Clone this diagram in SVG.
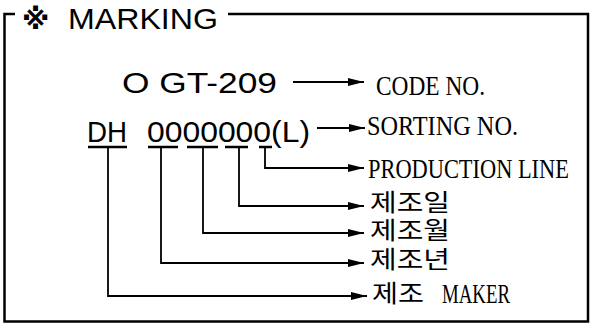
<svg xmlns="http://www.w3.org/2000/svg" width="591" height="324" viewBox="0 0 591 324">
<defs>
<style>
.sans{font-family:"Liberation Sans","Noto Sans",sans-serif;font-size:30px;fill:#000}
.lbl{font-family:"Liberation Serif",serif;font-size:27px;fill:#000}
.kr{font-family:"Liberation Serif","Noto Sans CJK KR",serif;font-size:24px;fill:#000}
.ln{fill:none;stroke:#000;stroke-width:1.8}
.ul{stroke:#000;stroke-width:2.5}
</style>
<marker id="ah" markerUnits="userSpaceOnUse" markerWidth="17" markerHeight="9" refX="16" refY="4.5" orient="auto">
<path d="M0,0.5 L16,4.5 L0,8.5 z" fill="#000"/>
</marker>
</defs>
<rect width="591" height="324" fill="#fff"/>
<g id="frame">
<path d="M15,14 H4.5 V321.5 H588 V14 H228" fill="none" stroke="#000" stroke-width="2.5"/>
<text x="22" y="29" font-family="DejaVu Sans,sans-serif" font-size="28" font-weight="bold" fill="#000">※</text>
<text class="sans" x="68" y="29" textLength="150" lengthAdjust="spacingAndGlyphs">MARKING</text>
</g>
<g id="code">
<text class="sans" x="122" y="93" textLength="155" lengthAdjust="spacingAndGlyphs">O GT-209</text>
</g>
<g id="sorting">
<text class="sans" x="87" y="142" textLength="40" lengthAdjust="spacingAndGlyphs">DH</text>
<text class="sans" x="147" y="142" textLength="163" lengthAdjust="spacingAndGlyphs">0000000(L)</text>
<g class="ul">
<line x1="88" y1="147" x2="127" y2="147"/>
<line x1="148" y1="147" x2="178" y2="147"/>
<line x1="187" y1="147" x2="218" y2="147"/>
<line x1="225" y1="147" x2="248" y2="147"/>
<line x1="259" y1="147" x2="272" y2="147"/>
</g>
</g>
<g id="connectors" class="ln">
<path d="M293,82 H364" marker-end="url(#ah)"/>
<path d="M317,128 H365" marker-end="url(#ah)"/>
<path d="M265,148 V168 H364" marker-end="url(#ah)"/>
<path d="M239,148 V206 H364" marker-end="url(#ah)"/>
<path d="M203,148 V233 H364" marker-end="url(#ah)"/>
<path d="M161,148 V263 H364" marker-end="url(#ah)"/>
<path d="M108,148 V296 H367" marker-end="url(#ah)"/>
</g>
<g id="labels">
<g id="l-code"><text class="lbl" x="376" y="95" textLength="109" lengthAdjust="spacingAndGlyphs">CODE NO.</text></g>
<g id="l-sorting"><text class="lbl" x="367" y="135" textLength="151" lengthAdjust="spacingAndGlyphs">SORTING NO.</text></g>
<g id="l-line"><text class="lbl" transform="translate(368,178) scale(0.83,1)" x="0" y="0">PRODUCTION LINE</text></g>
<g id="l-day"><text class="kr" x="370" y="211" textLength="80" lengthAdjust="spacingAndGlyphs">제조일</text></g>
<g id="l-month"><text class="kr" x="370" y="239" textLength="80" lengthAdjust="spacingAndGlyphs">제조월</text></g>
<g id="l-year"><text class="kr" x="370" y="268" textLength="80" lengthAdjust="spacingAndGlyphs">제조년</text></g>
<g id="l-maker"><text class="kr" x="372" y="302" textLength="52" lengthAdjust="spacingAndGlyphs">제조</text><text class="lbl" x="442" y="303" textLength="68" lengthAdjust="spacingAndGlyphs">MAKER</text></g>
</g>
</svg>
